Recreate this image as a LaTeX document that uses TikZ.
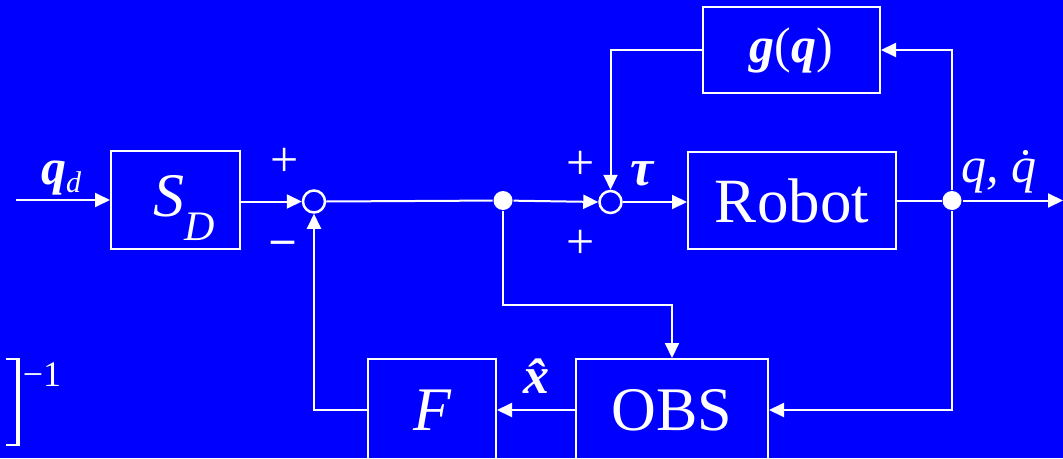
\documentclass[tikz,border=0pt]{standalone}
\usepackage{fontspec}
\setmainfont{Liberation Serif}
\usetikzlibrary{arrows.meta}
\definecolor{bg}{HTML}{0000FF}
\begin{document}
\begin{tikzpicture}[x=1pt,y=-1pt,line width=2pt,white,
  blk/.style={draw=white,line width=2pt,inner sep=0pt,text=white},
  sumc/.style={circle,draw=white,line width=2.5pt,minimum size=22pt,inner sep=0pt},
  dotc/.style={circle,fill=white,minimum size=19pt,inner sep=0pt},
  arr/.style={-{Triangle[length=15pt,width=14pt]}},
  lbl/.style={text=white,inner sep=0pt},
  plus/.style={lbl,font=\fontsize{50}{50}\selectfont}]
\fill[bg] (0,0) rectangle (1063,458);
\useasboundingbox (0,0) rectangle (1063,458);
\clip (0,0) rectangle (1063,458);
% blocks
\node[blk,minimum width=129pt,minimum height=98pt] (sd) at (175.5,200) {};
\node[lbl] (sdt) at (184,208) {{\fontsize{62}{62}\selectfont\itshape S}\raisebox{-24pt}{\fontsize{42}{42}\selectfont\itshape D}};
\node[blk,minimum width=208pt,minimum height=97pt,font=\fontsize{63}{63}\selectfont] (robot) at (792,200.5) {Robot};
\node[blk,minimum width=177pt,minimum height=86pt,font=\fontsize{50}{50}\selectfont] (g) at (791.5,50) {{\bfseries\itshape g}({\bfseries\itshape q})};
\node[blk,minimum width=192pt,minimum height=102pt,font=\fontsize{62}{62}\selectfont] (obs) at (672,410) {OBS};
\node[blk,minimum width=128pt,minimum height=102pt,font=\fontsize{62}{62}\selectfont\itshape] (f) at (432,410) {F};
% sums and junctions
\node[sumc] (s1) at (314,201.5) {};
\node[sumc] (s2) at (610.5,202) {};
\node[dotc] (j1) at (503,200.5) {};
\node[dotc] (j2) at (952,200.5) {};
\coordinate (in) at (16,200);
\coordinate (out) at (1063,200.5);
\coordinate (c1) at (503,305);
% connectors
\draw[arr] (in) -- (sd.west |- in);
\draw[arr] (sd.east |- s1) -- (s1.west);
\draw (s1.east) -- (j1);
\draw[arr] (j1) -- (s2.west);
\draw[arr] (s2.east) -- (robot.west |- s2);
\draw (robot.east |- j2) -- (j2);
\draw[arr] (j2) -- (out);
\draw[arr] (j2) |- (g.east);
\draw[arr] (g.west) -| (s2.north);
\draw[arr] (j1) -- (c1) -| (obs.north);
\draw[arr] (j2) |- (obs.east);
\draw[arr] (obs.west) -- (f.east);
\draw[arr] (f.west) -| (s1.south);
% labels
\node[lbl] (qd) at (61,178) {{\fontsize{50}{50}\selectfont\bfseries\itshape q}\raisebox{-8pt}{\fontsize{30}{30}\selectfont\itshape d}};
\node[plus] (p1) at (284.5,162) {+};
\node[lbl,font=\fontsize{46}{46}\selectfont\bfseries] (m1) at (283,247) {–};
\node[plus] (p2) at (581,165.5) {+};
\node[plus] (p3) at (581,244.5) {+};
\node[lbl,font=\fontsize{52}{52}\selectfont\bfseries\itshape] (tau) at (642,174) {τ};
\node[lbl,font=\fontsize{50}{50}\selectfont\itshape] (qq) at (999,172) {q, \.{q}};
\node[lbl,font=\fontsize{52}{52}\selectfont\bfseries\itshape] (xh) at (536,376) {\^{x}};
% bracket and exponent
\draw[line width=4pt] (18,358) -- (18,446);
\draw[line width=2pt] (6,359) -- (20,359);
\draw[line width=2pt] (6,445) -- (20,445);
\node[lbl,font=\fontsize{36}{36}\selectfont] (exp) at (42,375) {−1};
\end{tikzpicture}
\end{document}
